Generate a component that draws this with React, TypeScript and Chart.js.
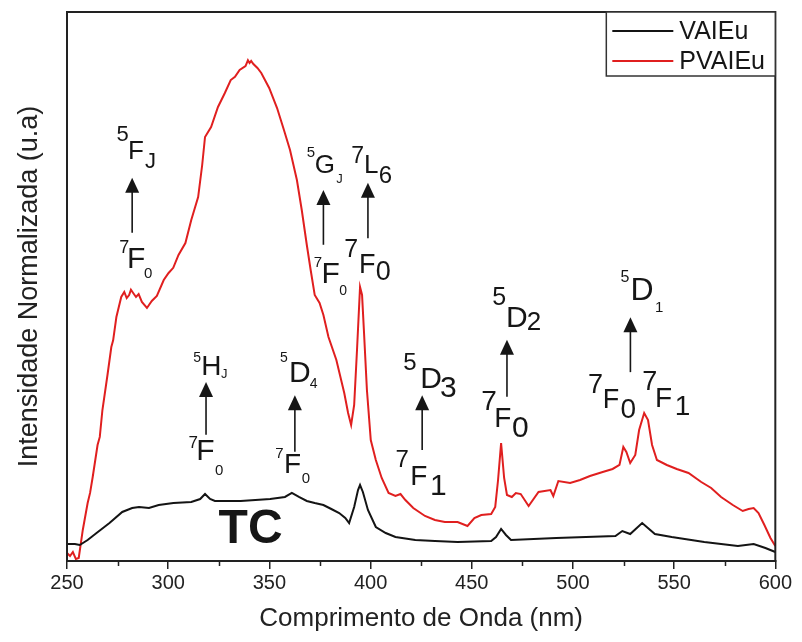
import React, { useEffect, useRef } from "react";
import { Chart, registerables } from "chart.js";

Chart.register(...registerables);

// ---- data ----
const xMajorTicks = [250, 300, 350, 400, 450, 500, 550, 600];
const xMinorTicks = [275, 325, 375, 425, 475, 525, 575];

const seriesNames = ["VAIEu", "PVAIEu"];

const vaieuWavelength = [
  250.0, 253.9, 256.3, 260.2, 264.6, 271.0, 277.3, 282.2, 285.6, 290.5, 295.3, 302.6, 311.4, 315.8,
  318.2, 320.7, 323.1, 335.8, 350.4, 357.7, 361.1, 364.6, 368.5, 372.4, 376.7, 380.6, 384.5, 387.5,
  389.4, 391.9, 393.8, 394.8, 396.2, 398.7, 402.6, 407.5, 412.3, 422.1, 431.8, 443.0, 459.6, 462.0,
  464.5, 466.9, 469.4, 491.8, 521.0, 524.4, 528.3, 534.2, 540.5, 548.8, 564.9, 581.5, 589.3, 595.1,
  600.0,
];
const vaieuIntensity = [
  3.1, 3.1, 2.91, 3.83, 5.1, 6.92, 8.93, 9.65, 9.84, 9.65, 10.2, 10.56, 10.75, 11.29,
  12.2, 11.29, 10.93, 10.93, 11.29, 11.66, 12.39, 11.66, 10.93, 10.56, 10.2, 9.47, 8.74, 7.83,
  6.92, 9.84, 12.93, 13.84, 12.57, 9.29, 6.19, 5.1, 4.37, 3.83, 3.64, 3.46, 3.64, 4.37,
  5.83, 4.74, 3.83, 4.19, 4.55, 5.46, 4.92, 6.92, 4.92, 4.37, 3.46, 2.73, 3.1, 2.37,
  1.64,
];

const pvaieuWavelength = [
  250.0, 251.5, 252.9, 254.4, 255.8, 257.8, 260.2, 261.4, 262.7, 265.1, 266.2, 267.5, 270.0, 271.9,
  272.8, 274.4, 276.8, 278.3, 279.5, 280.7, 281.6, 282.7, 284.1, 285.4, 287.0, 289.5, 291.9, 294.4,
  297.8, 300.2, 302.5, 305.1, 308.5, 311.4, 314.8, 316.8, 318.2, 321.2, 324.6, 328.0, 330.9, 333.0,
  335.3, 338.2, 339.4, 340.2, 341.0, 342.1, 344.1, 346.0, 349.9, 353.8, 357.2, 360.2, 363.6, 366.0,
  368.5, 370.4, 372.4, 374.8, 376.7, 379.2, 383.1, 387.0, 388.9, 390.4, 391.9, 393.3, 394.8, 395.8,
  396.7, 398.2, 400.1, 402.6, 405.5, 408.9, 412.3, 414.8, 417.2, 421.1, 426.9, 431.8, 436.7, 443.0,
  447.9, 451.3, 454.7, 459.6, 461.6, 463.0, 464.5, 466.0, 467.4, 469.8, 471.8, 474.2, 478.1, 483.0,
  488.9, 490.3, 492.8, 498.6, 503.5, 508.4, 514.7, 519.6, 523.0, 524.9, 526.4, 528.3, 530.8, 532.7,
  535.2, 537.1, 539.1, 541.5, 546.4, 551.3, 557.1, 563.4, 568.3, 573.2, 579.0, 583.9, 586.8, 589.3,
  591.7, 594.6, 597.6, 600.0,
];
const pvaieuIntensity = [
  1.46, 0.91, 1.64, 0.36, 0.55, 5.65, 10.56, 12.4, 15.3, 21.13, 22.6, 27.5, 33.88, 38.98,
  40.2, 44.44, 48.09, 49.0, 47.9, 48.45, 49.4, 48.82, 48.09, 48.6, 47.18, 46.09, 47.36, 48.27,
  51.18, 52.46, 53.4, 55.74, 57.92, 62.11, 66.3, 72.13, 77.23, 79.05, 82.7, 85.25, 87.61, 88.2,
  89.44, 90.16, 91.2, 90.71, 91.1, 90.53, 89.8, 88.89, 86.16, 82.51, 78.51, 74.86, 69.4, 63.93,
  57.56, 53.01, 48.45, 46.99, 44.81, 40.8, 36.61, 30.6, 26.96, 24.77, 28.42, 38.43, 49.91, 48.45,
  42.08, 31.15, 22.04, 18.4, 15.12, 12.39, 11.84, 12.2, 11.11, 9.65, 8.2, 7.47, 7.1, 7.1,
  6.38, 7.83, 8.38, 8.56, 9.84, 14.75, 21.49, 15.12, 12.02, 11.66, 12.39, 12.2, 10.02, 12.57,
  12.93, 11.84, 14.57, 14.21, 14.75, 15.48, 16.21, 16.76, 17.49, 20.77, 19.85, 17.85, 19.31, 23.86,
  26.96, 25.68, 21.13, 18.4, 17.49, 16.76, 16.03, 14.39, 13.3, 11.66, 10.2, 9.11, 9.47, 9.65,
  8.74, 6.56, 4.19, 2.73,
];

// ---- annotation text: [text, wavelength, intensity (baseline), font px] ----
const labelPieces: [string, number, number, number][] = [
  // 7F0 -> 5FJ
  ["5", 274.4, 76.5, 22], ["F", 280.2, 73.2, 26], ["J", 288.5, 71.6, 22],
  ["7", 275.8, 56.1, 18], ["F", 279.7, 53.4, 30], ["0", 288.0, 51.6, 15],
  // 7F0 -> 5GJ
  ["5", 368.5, 73.6, 15], ["G", 372.4, 70.7, 26], ["J", 383.1, 68.9, 13],
  ["7", 371.9, 53.6, 15], ["F", 375.8, 50.6, 30], ["0", 384.5, 48.5, 14],
  // 7F0 -> 7L6
  ["7", 390.4, 72.5, 23], ["L", 396.7, 70.7, 26], ["6", 404.0, 68.9, 24],
  ["7", 387.0, 55.4, 25], ["F", 394.3, 52.5, 27], ["0", 402.6, 51.2, 27],
  // 7F0 -> 5HJ
  ["5", 312.4, 36.3, 14], ["H", 316.3, 33.9, 28], ["J", 326.1, 33.3, 13],
  ["7", 310.0, 20.6, 17], ["F", 313.9, 18.4, 30], ["0", 323.1, 15.7, 15],
  // 7F0 -> 5D4
  ["5", 355.3, 36.3, 14], ["D", 359.7, 32.6, 30], ["4", 369.9, 31.5, 14],
  ["7", 352.9, 18.8, 15], ["F", 357.2, 16.0, 28], ["0", 366.0, 14.2, 15],
  // 7F1 -> 5D3
  ["5", 416.2, 34.8, 24], ["D", 424.5, 31.5, 30], ["3", 434.3, 29.9, 30],
  ["7", 412.3, 17.1, 24], ["F", 419.6, 13.8, 28], ["1", 429.4, 12.0, 30],
  // 7F0 -> 5D2
  ["5", 460.1, 46.6, 25], ["D", 466.9, 42.6, 30], ["2", 477.2, 42.1, 26],
  ["7", 454.7, 27.5, 28], ["F", 461.1, 24.4, 28], ["0", 469.9, 22.6, 30],
  // 7F0 / 7F1 -> 5D1
  ["5", 523.5, 50.8, 16], ["D", 528.4, 47.5, 32], ["1", 540.5, 45.4, 15],
  ["7", 507.4, 30.6, 27], ["F", 514.7, 27.9, 27], ["0", 523.5, 26.1, 28],
  ["7", 534.2, 31.2, 27], ["F", 540.5, 28.1, 28], ["1", 550.3, 26.6, 28],
];

// arrows: [wavelength, tail intensity, tip intensity]
const arrows: [number, number, number][] = [
  [282.2, 59.8, 69.8],
  [376.7, 57.6, 67.6],
  [398.7, 58.8, 68.9],
  [318.7, 23.0, 32.6],
  [362.6, 19.9, 30.2],
  [425.5, 20.2, 30.2],
  [467.4, 29.9, 40.3],
  [528.4, 34.4, 44.4],
];

const boldLabel: [string, number, number] = ["TC", 340.7, 3.3];

const FONT = "'Liberation Sans', Arial, sans-serif";
const INK = "#161616";
const seriesColors = ["#141414", "#e01f1f"];

const overlayPlugin = {
  id: "overlay",
  afterDraw(chart: any) {
    const { ctx, chartArea: a, scales } = chart;
    const xs = scales.x;
    const ys = scales.y;
    ctx.save();

    // frame
    ctx.strokeStyle = "#222";
    ctx.lineWidth = 2;
    ctx.strokeRect(a.left, a.top, a.right - a.left, a.bottom - a.top);

    // minor ticks
    ctx.lineWidth = 1.5;
    ctx.beginPath();
    for (const t of xMinorTicks) {
      const px = Math.round(xs.getPixelForValue(t)) + 0.5;
      ctx.moveTo(px, a.bottom);
      ctx.lineTo(px, a.bottom + 5);
    }
    ctx.stroke();

    // annotation texts
    ctx.fillStyle = INK;
    ctx.textAlign = "left";
    ctx.textBaseline = "alphabetic";
    for (const [txt, lam, val, size] of labelPieces) {
      ctx.font = `${size}px ${FONT}`;
      ctx.fillText(txt, xs.getPixelForValue(lam), ys.getPixelForValue(val));
    }

    // arrows
    ctx.strokeStyle = INK;
    ctx.lineWidth = 1.6;
    for (const [lam, v0, v1] of arrows) {
      const px = xs.getPixelForValue(lam);
      const p0 = ys.getPixelForValue(v0);
      const p1 = ys.getPixelForValue(v1);
      ctx.beginPath();
      ctx.moveTo(px, p0);
      ctx.lineTo(px, p1 + 12);
      ctx.stroke();
      ctx.beginPath();
      ctx.moveTo(px, p1);
      ctx.lineTo(px - 7, p1 + 15);
      ctx.lineTo(px + 7, p1 + 15);
      ctx.closePath();
      ctx.fill();
    }

    // TC
    ctx.font = `bold 48px ${FONT}`;
    ctx.textAlign = "center";
    ctx.fillText(boldLabel[0], xs.getPixelForValue(boldLabel[1]), ys.getPixelForValue(boldLabel[2]));

    // legend box
    const lw = 169;
    const lh = 64;
    const lx = a.right - lw;
    const ly = a.top;
    ctx.fillStyle = "#fff";
    ctx.fillRect(lx, ly, lw, lh);
    ctx.strokeStyle = "#333";
    ctx.lineWidth = 1.5;
    ctx.strokeRect(lx, ly, lw, lh);
    chart.data.datasets.forEach((ds: any, i: number) => {
      const yy = ly + 19 + i * 30;
      ctx.strokeStyle = ds.borderColor;
      ctx.lineWidth = 2;
      ctx.beginPath();
      ctx.moveTo(lx + 6, yy);
      ctx.lineTo(lx + 67, yy);
      ctx.stroke();
      ctx.fillStyle = INK;
      ctx.font = `25px ${FONT}`;
      ctx.textAlign = "left";
      ctx.textBaseline = "middle";
      ctx.fillText(ds.label, lx + 73, yy + 1);
    });

    ctx.restore();
  },
};

export default function App() {
  const ref = useRef<HTMLCanvasElement | null>(null);

  useEffect(() => {
    if (!ref.current) return;
    const toPoints = (xsArr: number[], ysArr: number[]) => xsArr.map((x, i) => ({ x, y: ysArr[i] }));
    const chart = new Chart(ref.current, {
      type: "line",
      data: {
        datasets: [
          {
            label: seriesNames[0],
            data: toPoints(vaieuWavelength, vaieuIntensity),
            borderColor: seriesColors[0],
            borderWidth: 2,
            pointRadius: 0,
            tension: 0,
            fill: false,
          },
          {
            label: seriesNames[1],
            data: toPoints(pvaieuWavelength, pvaieuIntensity),
            borderColor: seriesColors[1],
            borderWidth: 2,
            pointRadius: 0,
            tension: 0,
            fill: false,
          },
        ],
      },
      options: {
        animation: false,
        responsive: false,
        maintainAspectRatio: false,
        layout: { padding: { top: 4, right: 9, bottom: 0, left: 0 }, autoPadding: false },
        plugins: { legend: { display: false }, tooltip: { enabled: false } },
        scales: {
          x: {
            type: "linear",
            min: 250,
            max: 600,
            afterBuildTicks: (scale: any) => {
              scale.ticks = xMajorTicks.map((v) => ({ value: v }));
            },
            afterFit: (scale: any) => {
              scale.height = 73;
            },
            ticks: {
              color: "#222",
              font: { family: FONT, size: 20 },
              padding: 2,
              maxRotation: 0,
              autoSkip: false,
            },
            grid: { display: true, drawOnChartArea: false, drawTicks: true, tickLength: 8, color: "#222", lineWidth: 1.5 },
            border: { display: true, color: "#222", width: 2 },
            title: {
              display: true,
              text: "Comprimento de Onda (nm)",
              color: "#222",
              font: { family: FONT, size: 26, lineHeight: 1.2 },
              padding: { top: 0, bottom: 0 },
            },
          },
          y: {
            type: "linear",
            min: 0,
            max: 100,
            afterFit: (scale: any) => {
              scale.width = 59;
            },
            ticks: { display: false },
            grid: { display: false },
            border: { display: true, color: "#222", width: 2 },
            title: {
              display: true,
              text: "Intensidade Normalizada (u.a)",
              color: "#222",
              font: { family: FONT, size: 27, lineHeight: 1.2 },
              padding: { top: 5, bottom: 0 },
            },
          },
        },
      },
      plugins: [overlayPlugin],
    });
    return () => chart.destroy();
  }, []);

  return (
    <div style={{ width: 786, height: 626 }}>
      <canvas ref={ref} width={786} height={626} style={{ display: "block", width: 786, height: 626 }} />
    </div>
  );
}
